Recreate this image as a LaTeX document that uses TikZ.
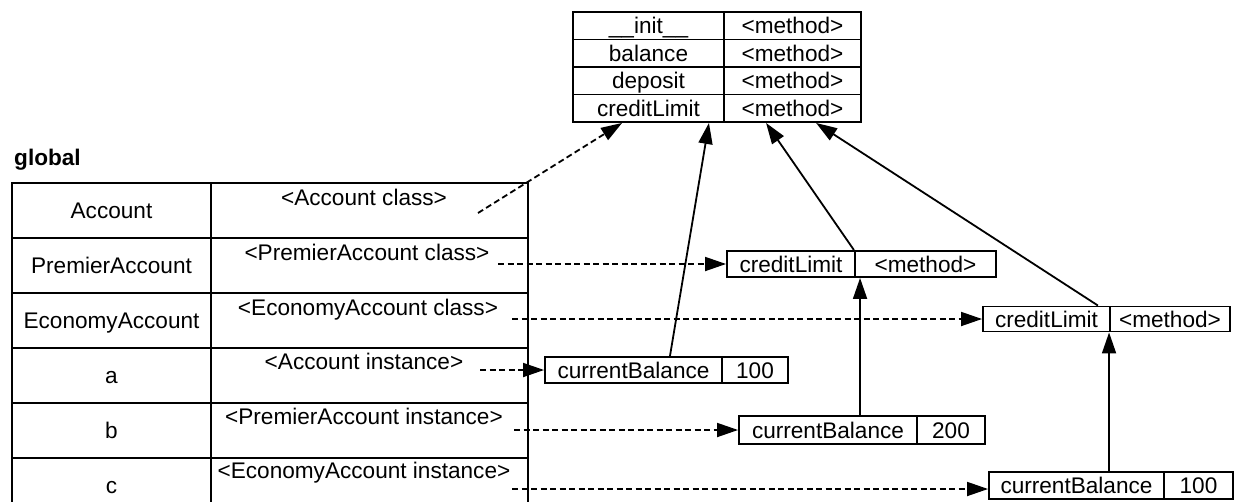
\documentclass[tikz,border=0pt]{standalone}
\usepackage{fontspec}
\setmainfont{Liberation Sans}
\usetikzlibrary{arrows.meta,calc}
\tikzset{
  cell/.style={draw, line width=1.9pt, inner sep=0pt, anchor=center, text height=16pt, text depth=0pt, font=\fontsize{22.6}{26}\selectfont},
  lbl/.style={inner sep=0pt, text height=16pt, text depth=0pt, font=\fontsize{22.6}{26}\selectfont},
  ptr/.style={line width=1.8pt, -{Triangle[length=21pt,width=14pt]}},
  dptr/.style={ptr, dash pattern=on 6pt off 3.5pt},
}
\begin{document}
\begin{tikzpicture}[x=1pt,y=-1pt]
\clip (0,0) rectangle (1243,501);
\fill[white] (0,0) rectangle (1243,501);
% top method table
\node[cell, minimum width=151pt, minimum height=27.5pt] (t11) at (648.5,25.75) {\_\_init\_\_};
\node[cell, minimum width=137pt, minimum height=27.5pt] (t12) at (792.5,25.75) {<method>};
\node[cell, minimum width=151pt, minimum height=27.5pt] (t21) at (648.5,53.25) {balance};
\node[cell, minimum width=137pt, minimum height=27.5pt] (t22) at (792.5,53.25) {<method>};
\node[cell, minimum width=151pt, minimum height=27.5pt] (t31) at (648.5,80.75) {deposit};
\node[cell, minimum width=137pt, minimum height=27.5pt] (t32) at (792.5,80.75) {<method>};
\node[cell, minimum width=151pt, minimum height=27.5pt] (t41) at (648.5,108.25) {creditLimit};
\node[cell, minimum width=137pt, minimum height=27.5pt] (t42) at (792.5,108.25) {<method>};
% global frame
\node[lbl, font=\fontsize{22.6}{26}\selectfont\bfseries, anchor=west] (glob) at (14,157) {global};
\node[cell, minimum width=199pt, minimum height=55pt] (g1) at (111.5,210.5) {Account};
\node[cell, minimum width=317pt, minimum height=55pt] (v1) at (369.5,210.5) {};
\node[cell, minimum width=199pt, minimum height=55pt] (g2) at (111.5,265.5) {PremierAccount};
\node[cell, minimum width=317pt, minimum height=55pt] (v2) at (369.5,265.5) {};
\node[cell, minimum width=199pt, minimum height=55pt] (g3) at (111.5,320.5) {EconomyAccount};
\node[cell, minimum width=317pt, minimum height=55pt] (v3) at (369.5,320.5) {};
\node[cell, minimum width=199pt, minimum height=55pt] (g4) at (111.5,375.5) {a};
\node[cell, minimum width=317pt, minimum height=55pt] (v4) at (369.5,375.5) {};
\node[cell, minimum width=199pt, minimum height=55pt] (g5) at (111.5,430.5) {b};
\node[cell, minimum width=317pt, minimum height=55pt] (v5) at (369.5,430.5) {};
\node[cell, minimum width=199pt, minimum height=55pt] (g6) at (111.5,485.5) {c};
\node[cell, minimum width=317pt, minimum height=55pt] (v6) at (369.5,485.5) {};
\node[lbl] (l1) at (364,197) {<Account class>};
\node[lbl] (l2) at (367,252) {<PremierAccount class>};
\node[lbl] (l3) at (368,307) {<EconomyAccount class>};
\node[lbl] (l4) at (364,361) {<Account instance>};
\node[lbl] (l5) at (364,416) {<PremierAccount instance>};
\node[lbl] (l6) at (364,470) {<EconomyAccount instance>};
% PremierAccount class
\node[cell, minimum width=128pt, minimum height=26pt] (p1) at (791,264) {creditLimit};
\node[cell, minimum width=141pt, minimum height=26pt] (p2) at (925.5,264) {<method>};
% EconomyAccount class
\node[cell, minimum width=127pt, minimum height=25pt] (e1) at (1046.5,319) {creditLimit};
\node[cell, minimum width=120pt, minimum height=25pt] (e2) at (1170,319) {<method>};
% instances
\node[cell, minimum width=177pt, minimum height=26pt] (a1) at (633.5,370) {currentBalance};
\node[cell, minimum width=66pt, minimum height=26pt] (a2) at (755,370) {100};
\node[cell, minimum width=178pt, minimum height=28pt] (b1) at (828,430) {currentBalance};
\node[cell, minimum width=68pt, minimum height=28pt] (b2) at (951,430) {200};
\node[cell, minimum width=175pt, minimum height=27pt] (c1) at (1076.5,485.5) {currentBalance};
\node[cell, minimum width=69pt, minimum height=27pt] (c2) at (1198.5,485.5) {100};
% free ends of dashed pointers
\coordinate (s1) at (478,213);
\coordinate (s2) at (498,264);
\coordinate (s3) at (512,319);
\coordinate (s4) at (480,370);
\coordinate (s5) at (514,430);
\coordinate (s6) at (512,489);
% dashed pointers
\draw[dptr] (s1) -- ($(t41.south west)+(50,0)$);
\draw[dptr] (s2) -- (p1.west);
\draw[dptr] (s3) -- (e1.west);
\draw[dptr] (s4) -- (a1.west);
\draw[dptr] (s5) -- (b1.west);
\draw[dptr] (s6) -- (s6 -| c1.west);
% inheritance / class pointers
\draw[ptr] ($(a1.north east)+(-53,0)$) -- ($(t41.south east)+(-16,0)$);
\draw[ptr] ($(p1.north east)+(-2,0)$) -- ($(t42.south west)+(43,0)$);
\draw[ptr] ($(e1.north east)+(-13,0)$) -- ($(t42.south west)+(93,0)$);
\coordinate (pb) at ($(p2.south west)+(6,0)$);
\draw[ptr] (b1.north -| pb) -- (pb);
\draw[ptr] (c1.north -| e2.south west) -- (e2.south west);
\end{tikzpicture}
\end{document}
